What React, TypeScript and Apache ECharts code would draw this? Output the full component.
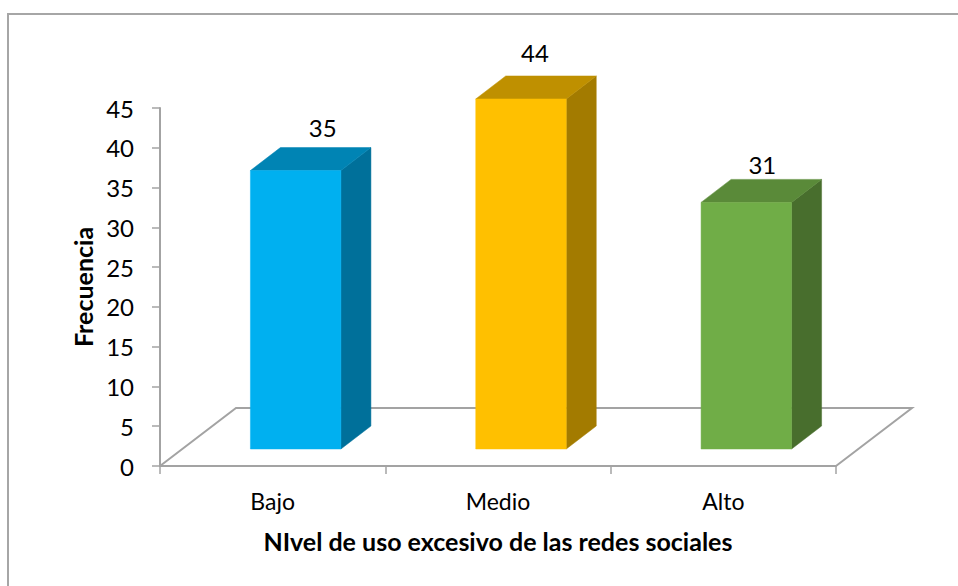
import React, { useEffect, useRef } from "react";
import * as echarts from "echarts";

const categories = ["Bajo", "Medio", "Alto"];
const frecuencia = [35, 44, 31];
const yTicksMax = 45;
const yTickStep = 5;
const xTitle = "NIvel de uso excesivo de las redes sociales";
const yTitle = "Frecuencia";

const frontColors = ["#00B0F0", "#FFC000", "#70AD47"];
const topColors = ["#0084B4", "#BF9000", "#5A8A39"];
const sideColors = ["#00709A", "#A37B00", "#486E2D"];

const FONT = "Lato, Carlito, sans-serif";
const GREY = "#A3A3A3";
const DX = 30;
const DY = -23;
const LIFT = 17;
const FLOOR_DX = 76;
const FLOOR_DY = -58;
const BAR_W = 90.5;
const SHIFT = 23;
const labelOffsets = [[27, -43], [14, -46], [16, -38]];

export default function App() {
  const ref = useRef<HTMLDivElement>(null);
  useEffect(() => {
    document.body.style.margin = "0";
    const chart = echarts.init(ref.current!, null, { renderer: "svg" });
    chart.setOption({
      animation: false,
      backgroundColor: "#FFFFFF",
      grid: { left: 160, right: 122, top: 108, bottom: 120, containLabel: false },
      xAxis: {
        type: "category",
        data: categories,
        name: xTitle,
        nameLocation: "middle",
        nameGap: 62,
        nameTextStyle: { fontFamily: FONT, fontSize: 25, fontWeight: "bold", color: "#000" },
        axisLine: { lineStyle: { color: GREY, width: 2 } },
        axisTick: { show: true, length: 8, alignWithLabel: false, lineStyle: { color: GREY, width: 1.5 } },
        axisLabel: { fontFamily: FONT, fontSize: 23, color: "#000", margin: 23 },
        splitLine: { show: false },
      },
      yAxis: {
        type: "value",
        min: 0,
        max: yTicksMax,
        interval: yTickStep,
        name: yTitle,
        nameLocation: "middle",
        nameGap: 65,
        nameRotate: 90,
        nameTextStyle: { fontFamily: FONT, fontSize: 25, fontWeight: "bold", color: "#000" },
        axisLine: { show: true, lineStyle: { color: GREY, width: 2 } },
        axisTick: { show: true, length: 8, lineStyle: { color: GREY, width: 1.5 } },
        axisLabel: { fontFamily: FONT, fontSize: 24, color: "#000", margin: 26 },
        splitLine: { show: false },
      },
      graphic: [
        {
          type: "polyline",
          silent: true,
          shape: { points: [[8, 586], [8, 14], [958, 14]] },
          style: { stroke: "#A6A6A6", lineWidth: 2, fill: "none" },
        },
      ],
      series: [
        {
          type: "custom",
          silent: true,
          z: 1,
          data: [0],
          renderItem: (params: any) => {
            const c = params.coordSys;
            const b = c.y + c.height;
            const r = c.x + c.width;
            return {
              type: "polyline",
              shape: {
                points: [
                  [c.x, b],
                  [c.x + FLOOR_DX, b + FLOOR_DY],
                  [r + FLOOR_DX, b + FLOOR_DY],
                  [r, b],
                ],
              },
              style: { stroke: GREY, lineWidth: 2, fill: "none" },
            };
          },
        },
        {
          type: "custom",
          silent: true,
          z: 3,
          data: frecuencia.map((v, i) => [i, v]),
          encode: { x: 0, y: 1 },
          renderItem: (_p: any, api: any) => {
            const i = api.value(0);
            const v = api.value(1);
            const base = api.coord([i, 0]);
            const top = api.coord([i, v]);
            const x0 = base[0] + SHIFT - BAR_W / 2;
            const x1 = x0 + BAR_W;
            const yb = base[1] - LIFT;
            const yt = top[1] - LIFT;
            const poly = (points: number[][], fill: string) => ({
              type: "polygon",
              shape: { points },
              style: { fill, stroke: fill, lineWidth: 0.5 },
            });
            return {
              type: "group",
              children: [
                poly([[x1, yb], [x1 + DX, yb + DY], [x1 + DX, yt + DY], [x1, yt]], sideColors[i]),
                poly([[x0, yt], [x0 + DX, yt + DY], [x1 + DX, yt + DY], [x1, yt]], topColors[i]),
                poly([[x0, yb], [x1, yb], [x1, yt], [x0, yt]], frontColors[i]),
                {
                  type: "text",
                  x: (x0 + x1) / 2 + labelOffsets[i][0],
                  y: yt + labelOffsets[i][1],
                  style: {
                    text: String(v),
                    fontFamily: FONT,
                    fontSize: 24,
                    fill: "#000",
                    align: "center",
                    verticalAlign: "middle",
                  },
                },
              ],
            };
          },
        },
      ],
    });
    return () => chart.dispose();
  }, []);
  return <div ref={ref} style={{ position: "absolute", left: 0, top: 0, width: 958, height: 586 }} />;
}
